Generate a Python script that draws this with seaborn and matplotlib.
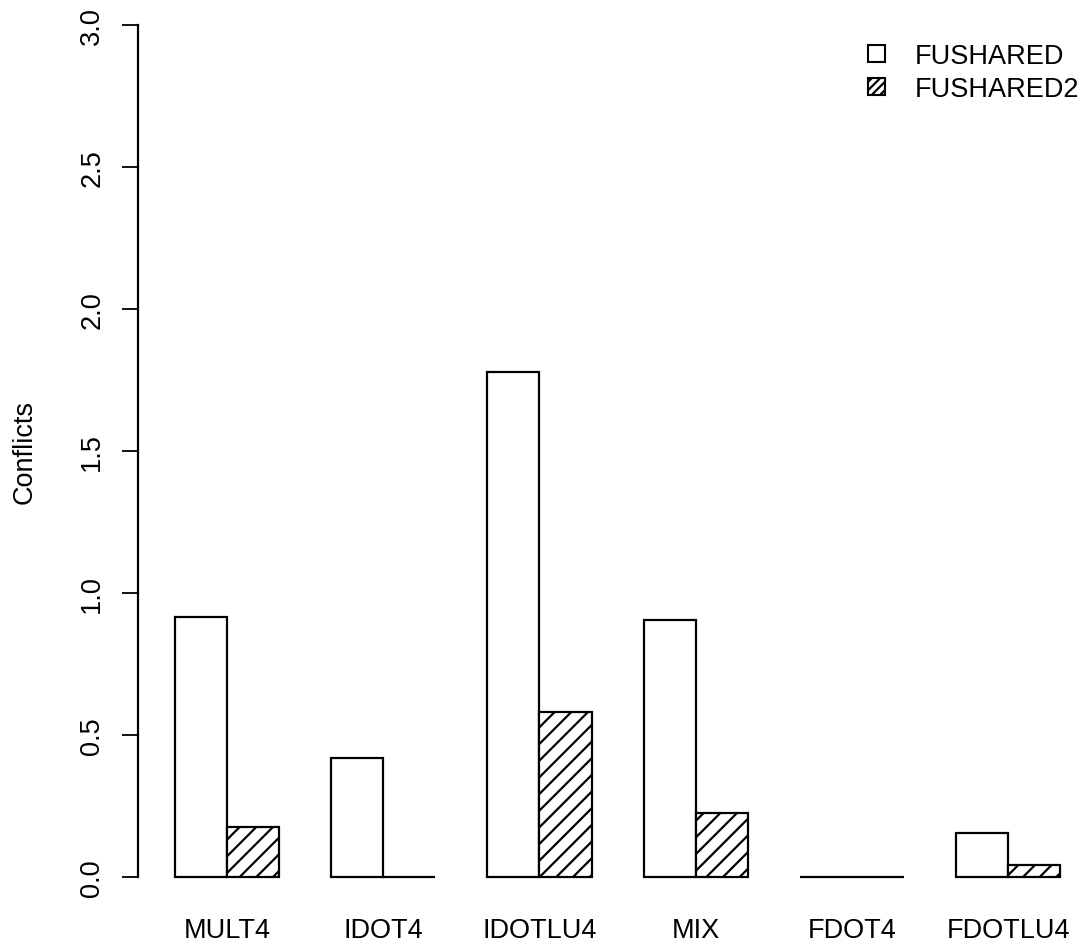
import matplotlib
matplotlib.use("Agg")
import matplotlib.pyplot as plt
import seaborn as sns
import pandas as pd
from matplotlib.patches import Patch

categories = ["MULT4", "IDOT4", "IDOTLU4", "MIX", "FDOT4", "FDOTLU4"]
fushared = [0.915, 0.42, 1.777, 0.905, 0.0, 0.155]
fushared2 = [0.177, 0.0, 0.58, 0.225, 0.0, 0.042]
series_names = ["FUSHARED", "FUSHARED2"]
y_ticks = [0.0, 0.5, 1.0, 1.5, 2.0, 2.5, 3.0]
y_label = "Conflicts"

df = pd.DataFrame({
    "bench": categories * 2,
    "conflicts": fushared + fushared2,
    "config": [series_names[0]] * len(categories) + [series_names[1]] * len(categories),
})

sns.set_theme(style="white")
plt.rcParams["font.family"] = ["Liberation Sans", "DejaVu Sans"]
plt.rcParams["hatch.linewidth"] = 1.6
plt.rcParams["hatch.color"] = "black"
plt.rcParams["text.color"] = "black"
plt.rcParams["xtick.color"] = "black"
plt.rcParams["ytick.color"] = "black"
plt.rcParams["xtick.labelcolor"] = "black"
plt.rcParams["ytick.labelcolor"] = "black"

FS = 19.5
fig = plt.figure(figsize=(10.87, 9.45), dpi=100)
ax = fig.add_axes([138 / 1087, 0.03484, 949 / 1087, 0.97372])

sns.barplot(data=df, x="bench", y="conflicts", hue="config", order=categories,
            hue_order=series_names, width=2 / 3, palette=["white", "white"],
            saturation=1, edgecolor="black", linewidth=1.6, ax=ax, legend=False,
            errorbar=None)

for bar in ax.containers[1]:
    bar.set_hatch("//")
for c in ax.containers:
    for bar in c:
        bar.set_clip_on(False)

ax.set_xlim(-0.5702, 5.5054)
ax.set_ylim(-0.12, 3.12)
ax.set_yticks(y_ticks)
ax.set_yticklabels([f"{v:.1f}" for v in y_ticks], rotation=90, va="center", fontsize=FS)
ax.tick_params(axis="y", length=11.5, width=1.3, pad=12, color="black", left=True)
ax.tick_params(axis="x", length=0, pad=4, labelsize=FS)
for s in ["top", "right", "bottom"]:
    ax.spines[s].set_visible(False)
ax.spines["left"].set_bounds(0, 3)
ax.spines["left"].set_linewidth(1.6)
ax.spines["left"].set_color("black")
ax.set_xlabel("")
ax.set_ylabel("")
ax.patch.set_alpha(0)

fig.text(25 / 1087, 1 - 452 / 945, y_label, rotation=90, ha="center", va="center",
         fontsize=FS, color="black")

handles = [Patch(facecolor="white", edgecolor="black", linewidth=1.5),
           Patch(facecolor="white", edgecolor="black", linewidth=1.5, hatch="////")]
fig.legend(handles, series_names, loc="upper left",
           bbox_to_anchor=(868 / 1087, 1 - 44 / 945), frameon=False, fontsize=FS,
           handlelength=0.64, handleheight=0.56, handletextpad=1.1,
           labelspacing=0.27, borderpad=0, borderaxespad=0)

fig.savefig("out.png", dpi=100, facecolor="white")
